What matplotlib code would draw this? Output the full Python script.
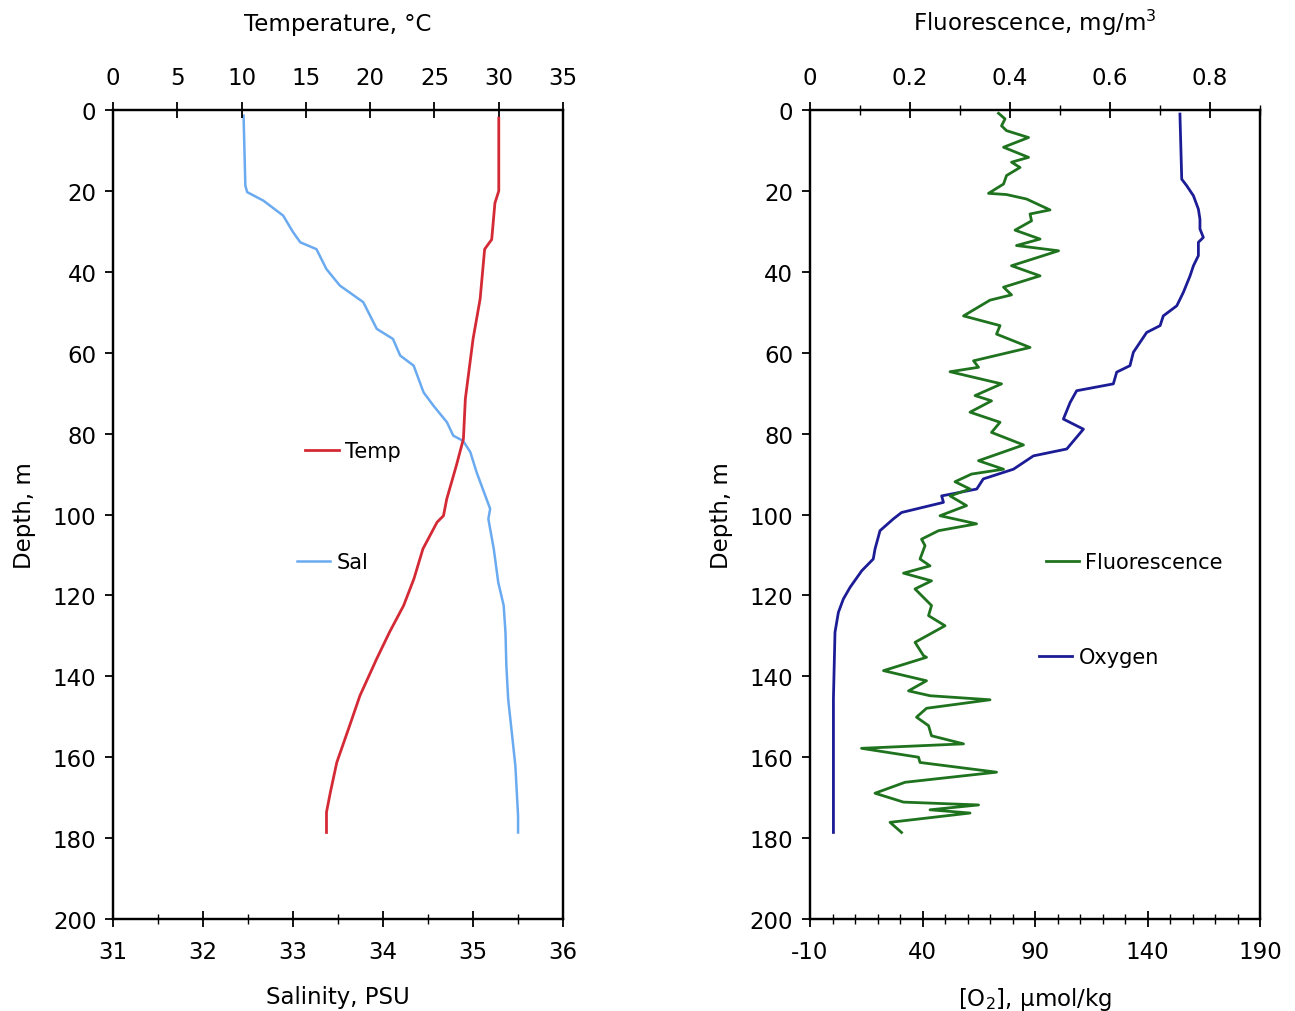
import numpy as np
import matplotlib
matplotlib.use("Agg")
import matplotlib.pyplot as plt
from matplotlib.ticker import MultipleLocator

# temperature profile (top axis, left panel)
temp_depth = [2, 20, 23, 32, 34.4, 46.7, 56.6, 71.4, 81.3, 87.9, 96.2, 100.3, 101.9,
              108.5, 115.9, 122.5, 129.1, 135.7, 144.8, 152.2, 161.3, 168.7, 173.6, 178.6]
temp = [30.0, 30.0, 29.7, 29.45, 28.9, 28.55, 28.0, 27.4, 27.25, 26.7, 25.95, 25.7, 25.2,
        24.1, 23.4, 22.6, 21.5, 20.5, 19.2, 18.4, 17.4, 16.9, 16.6, 16.6]

# salinity profile (bottom axis, left panel)
sal_depth = [1.4, 18.7, 20.3, 22.4, 26.1, 30.2, 32.7, 34.4, 39.3, 43.4, 47.5, 54.1, 56.6,
             60.7, 63.2, 69.8, 73.1, 77.2, 80.5, 81.8, 84.6, 89.6, 96.2, 98.6, 101.1,
             108.5, 116.8, 122.5, 129.1, 137.4, 145.6, 153.8, 162.1, 174.5, 178.6]
sal = [32.45, 32.47, 32.49, 32.67, 32.89, 33.0, 33.08, 33.26, 33.37, 33.52, 33.78, 33.93, 34.11,
       34.19, 34.34, 34.45, 34.56, 34.71, 34.78, 34.89, 34.97, 35.04, 35.15, 35.19, 35.17,
       35.23, 35.28, 35.34, 35.36, 35.37, 35.39, 35.43, 35.47, 35.5, 35.5]

# fluorescence profile (top axis, right panel)
fl_depth = [0.8, 2.2, 3.9, 5.1, 6.8, 9.2, 11.7, 12.9, 14.2, 16.2, 18.3, 20.6, 20.9, 22.0,
            24.7, 25.7, 27.4, 29.7, 31.9, 33.5, 34.8, 38.5, 41.0, 43.8, 45.7, 47.0,
            50.9, 53.3, 55.4, 58.7, 62.0, 63.6, 64.7, 67.7, 70.6, 71.9, 74.7, 77.2, 79.7,
            82.8, 86.7, 88.8, 90.0, 91.9, 93.7, 95.4, 97.8, 100.3, 102.3, 104.0, 106.1,
            107.7, 111.0, 112.7, 114.5, 116.4, 118.4, 122.5, 125.0, 127.5, 131.6, 134.9,
            135.3, 138.6, 141.1, 143.6, 144.8, 145.8, 147.9, 150.1, 152.2, 154.7, 156.7,
            157.8, 160.0, 161.3, 163.7, 166.2, 168.9, 171.1, 171.8, 173.0, 173.8, 176.1, 178.6]
fluor = [0.377, 0.39, 0.383, 0.393, 0.437, 0.387, 0.437, 0.403, 0.42, 0.393, 0.387, 0.357, 0.393, 0.433,
         0.48, 0.44, 0.443, 0.41, 0.46, 0.413, 0.497, 0.403, 0.46, 0.387, 0.403, 0.36,
         0.307, 0.38, 0.373, 0.44, 0.327, 0.337, 0.28, 0.383, 0.33, 0.363, 0.32, 0.38, 0.363,
         0.427, 0.337, 0.387, 0.323, 0.29, 0.32, 0.28, 0.313, 0.26, 0.333, 0.257, 0.223,
         0.23, 0.22, 0.24, 0.187, 0.243, 0.21, 0.243, 0.237, 0.27, 0.21, 0.227,
         0.233, 0.147, 0.233, 0.197, 0.24, 0.36, 0.233, 0.213, 0.237, 0.243, 0.307,
         0.103, 0.217, 0.22, 0.373, 0.19, 0.13, 0.187, 0.337, 0.24, 0.32, 0.16, 0.183]

# oxygen profile (bottom axis, right panel)
ox_depth = [1.0, 17.1, 18.7, 21.2, 24.5, 27.0, 29.4, 31.5, 32.7, 36.0, 38.5, 41.0, 45.1,
            48.4, 50.9, 53.3, 55.0, 59.9, 63.2, 64.8, 67.7, 69.4, 72.3, 76.4, 78.9, 83.8,
            85.5, 88.8, 91.2, 93.7, 95.4, 97.0, 99.5, 101.1, 104.0, 108.5, 111.0, 113.9,
            118.0, 120.9, 124.2, 129.1, 145.6, 178.6]
oxygen = [154.4, 155.2, 157.4, 160.4, 162.6, 163.3, 163.3, 164.8, 162.6, 162.6, 160.4, 158.9, 155.9,
          153.0, 147.0, 145.6, 139.6, 133.7, 132.2, 126.3, 124.8, 108.5, 105.6, 102.6, 111.5, 104.1,
          89.3, 80.4, 67.0, 64.1, 48.5, 49.3, 30.7, 27.0, 21.1, 18.9, 18.1, 13.0,
          7.8, 4.8, 2.6, 1.1, 0.4, 0.4]

depth_ticks = np.arange(0, 201, 20)
temp_ticks = np.arange(0, 36, 5)
sal_ticks = np.arange(31, 36.1, 1)
fl_ticks = [0, 0.2, 0.4, 0.6, 0.8]
ox_ticks = [-10, 40, 90, 140, 190]

FS = 16.5
plt.rcParams['font.family'] = ['DejaVu Sans']
plt.rcParams['font.size'] = FS
plt.rcParams['axes.unicode_minus'] = False

fig = plt.figure(figsize=(12.95, 10.12), dpi=100)
ax1 = fig.add_axes([0.0873, 0.0909, 0.3475, 0.7994])
ax2 = fig.add_axes([0.6255, 0.0909, 0.3475, 0.7994])


def style_axes(ax, top):
    for a in (ax, top):
        for s in a.spines.values():
            s.set_linewidth(1.6)
            s.set_color('black')
    ax.set_ylim(200, 0)
    ax.set_yticks(depth_ticks)
    ax.tick_params(axis='y', direction='out', length=6, width=1.3, pad=6, labelsize=FS)
    ax.tick_params(axis='x', which='major', direction='inout', length=12, width=1.3,
                   pad=9, labelsize=FS)
    ax.tick_params(axis='x', which='minor', direction='inout', length=7, width=1.0)
    top.tick_params(axis='x', which='major', direction='inout', length=12, width=1.3,
                    pad=9, labelsize=FS)
    top.tick_params(axis='x', which='minor', direction='inout', length=7, width=1.0)
    ax.set_ylabel('Depth, m', fontsize=FS, labelpad=12)


# left panel: salinity (bottom) and temperature (top)
top1 = ax1.twiny()
l_sal, = ax1.plot(sal, sal_depth, color='#6aaaf0', lw=1.8, label='Sal')
l_temp, = top1.plot(temp, temp_depth, color='#d42a35', lw=2.0, label='Temp')
ax1.set_xlim(31, 36)
ax1.set_xticks(sal_ticks)
ax1.xaxis.set_minor_locator(MultipleLocator(0.5))
top1.set_xlim(0, 35)
top1.set_xticks(temp_ticks)
style_axes(ax1, top1)
ax1.set_xlabel('Salinity, PSU', fontsize=FS, labelpad=16)
top1.set_xlabel('Temperature, \u00b0C', fontsize=FS, labelpad=26)

leg_kw = dict(frameon=False, borderpad=0, borderaxespad=0, handlelength=1.6,
              handletextpad=0.3, fontsize=15, loc='center left')
lg = top1.legend(handles=[l_temp], bbox_to_anchor=(0.427, 0.5785), **leg_kw)
top1.add_artist(lg)
top1.legend(handles=[l_sal], bbox_to_anchor=(0.409, 0.4413), **leg_kw)

# right panel: oxygen (bottom) and fluorescence (top)
top2 = ax2.twiny()
l_ox, = ax2.plot(oxygen, ox_depth, color='#1c1c96', lw=2.0, label='Oxygen')
l_fl, = top2.plot(fluor, fl_depth, color='#1f731f', lw=2.0, label='Fluorescence')
ax2.set_xlim(-10, 190)
ax2.set_xticks(ox_ticks)
ax2.xaxis.set_minor_locator(MultipleLocator(10))
top2.set_xlim(0, 0.9)
top2.set_xticks(fl_ticks)
top2.set_xticklabels(['0', '0.2', '0.4', '0.6', '0.8'])
top2.xaxis.set_minor_locator(MultipleLocator(0.1))
style_axes(ax2, top2)
ax2.set_xlabel('[O$_2$], \u03bcmol/kg', fontsize=FS, labelpad=16)
top2.set_xlabel('Fluorescence, mg/m$^3$', fontsize=FS, labelpad=26)

lg = top2.legend(handles=[l_fl], bbox_to_anchor=(0.524, 0.4413), **leg_kw)
top2.add_artist(lg)
top2.legend(handles=[l_ox], bbox_to_anchor=(0.509, 0.3239), **leg_kw)

fig.savefig('out.png', dpi=100)
